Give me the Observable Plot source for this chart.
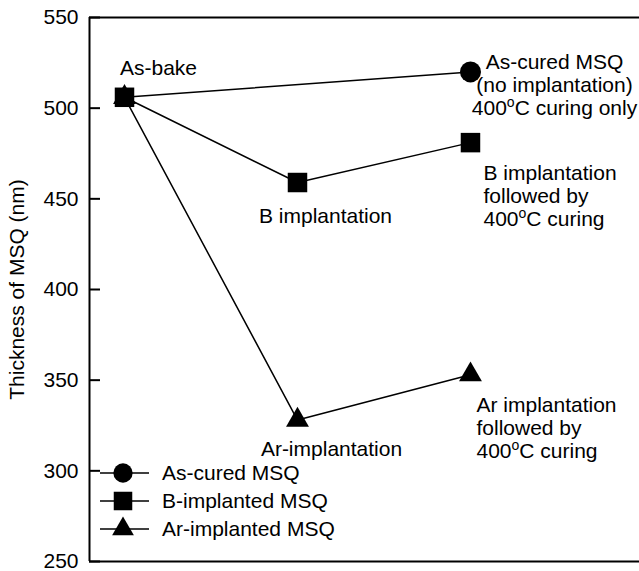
<!DOCTYPE html>
<html>
<head>
<meta charset="utf-8">
<script src="https://cdn.jsdelivr.net/npm/d3@7"></script>
<script src="https://cdn.jsdelivr.net/npm/@observablehq/plot@0.6"></script>
<style>
  html, body { margin: 0; padding: 0; background: #fff; }
  #chart { position: relative; width: 639px; height: 571px; }
</style>
</head>
<body>
<div id="chart"></div>
<script>
// ---- Data ----
const stepNames = ["As-bake", "Implantation", "400°C curing"]; // x = 0, 1, 2
const seriesNames = ["As-cured MSQ", "B-implanted MSQ", "Ar-implanted MSQ"];
const seriesSymbols = ["circle", "square", "triangle"];
const asCuredSteps = [0, 2];
const asCuredValues = [506, 520];
const bSteps = [0, 1, 2];
const bValues = [506, 459, 481];
const arSteps = [0, 1, 2];
const arValues = [506, 328, 353];
const yTicks = [250, 300, 350, 400, 450, 500, 550];
const yDomain = [250, 550];
const xDomain = [-0.2023, 2.977];

const annoLabels = [
  "As-bake",
  "B implantation",
  "Ar-implantation",
  "As-cured MSQ\n(no implantation)\n400°C curing only",
  "B implantation\nfollowed by\n400°C curing",
  "Ar implantation\nfollowed by\n400°C curing"
];
const annoSeries = ["B-implanted MSQ", "B-implanted MSQ", "Ar-implanted MSQ", "As-cured MSQ", "B-implanted MSQ", "Ar-implanted MSQ"];
const annoStep = [0, 1, 1, 2, 2, 2];

// ---- Build tables ----
const rows = [];
asCuredSteps.forEach((s, i) => rows.push({series: seriesNames[0], step: s, value: asCuredValues[i]}));
bSteps.forEach((s, i) => rows.push({series: seriesNames[1], step: s, value: bValues[i]}));
arSteps.forEach((s, i) => rows.push({series: seriesNames[2], step: s, value: arValues[i]}));
const valueOf = (series, step) => rows.find(r => r.series === series && r.step === step).value;
const anno = annoLabels.map((t, i) => ({text: t, step: annoStep[i], value: valueOf(annoSeries[i], annoStep[i])}));

const circleRows = rows.filter(r => r.series === seriesNames[0] && r.step > 0);
const squareRows = rows.filter(r => r.series === seriesNames[1]);
const triRows = rows.filter(r => r.series === seriesNames[2]);

const W = 639, H = 571, mL = 89, mR = 0, mT = 17, mB = 10;
const FONT = "'Liberation Sans', Arial, Helvetica, sans-serif";
const FS = 21;
const R = {circle: 10.5, square: 11, triangle: 8.5};

const textOpts = {fontSize: FS, fill: "black", lineHeight: 1.1};

const chart = Plot.plot({
  width: W, height: H,
  marginLeft: mL, marginRight: mR, marginTop: mT, marginBottom: mB,
  style: {fontFamily: FONT, fontSize: FS + "px", color: "black", background: "white", overflow: "visible"},
  x: {domain: xDomain, axis: null},
  y: {domain: yDomain},
  marks: [
    // tick labels + title
    Plot.axisY(yTicks, {tickSize: 0, tickPadding: 11, fontSize: FS,
      label: "Thickness of MSQ (nm)", labelAnchor: "center", labelOffset: 80, labelArrow: "none"}),
    // inward tick marks
    Plot.axisY(yTicks, {tickSize: 11, dx: 11, strokeWidth: 2, text: null, label: null}),
    Plot.ruleY([yDomain[1], yDomain[0]], {stroke: "black", strokeWidth: 2}),
    Plot.ruleX([xDomain[0]], {stroke: "black", strokeWidth: 2}),
    Plot.line(rows, {x: "step", y: "value", z: "series", stroke: "black", strokeWidth: 1.5}),
    Plot.dot(circleRows, {x: "step", y: "value", symbol: "circle", r: R.circle, fill: "black", stroke: "none"}),
    Plot.dot(triRows, {x: "step", y: "value", symbol: "triangle", r: R.triangle, fill: "black", stroke: "none"}),
    Plot.dot(squareRows, {x: "step", y: "value", symbol: "square", r: R.square, fill: "black", stroke: "none"}),
    // annotations
    Plot.text([anno[0]], {x: "step", y: "value", text: "text", dx: 34, dy: -30, ...textOpts}),
    Plot.text([anno[1]], {x: "step", y: "value", text: "text", dx: 28, dy: 33, ...textOpts}),
    Plot.text([anno[2]], {x: "step", y: "value", text: "text", dx: 34, dy: 29, ...textOpts}),
    Plot.text([anno[3]], {x: "step", y: "value", text: "text", dx: 84, dy: 13, ...textOpts}),
    Plot.text([anno[4]], {x: "step", y: "value", text: "text", dx: 13, dy: 53, textAnchor: "start", ...textOpts}),
    Plot.text([anno[5]], {x: "step", y: "value", text: "text", dx: 6, dy: 53, textAnchor: "start", ...textOpts})
  ]
});

document.getElementById("chart").appendChild(chart);

// ---- Legend (inside plot, bottom-left) ----
const svg = d3.select(chart);
const lg = svg.append("g").attr("font-family", FONT).attr("font-size", FS).attr("text-anchor", "start");
seriesNames.forEach((name, i) => {
  const cy = 473 + 28 * i;
  const g = lg.append("g").attr("transform", `translate(${mL + 34},${cy})`);
  g.append("line").attr("x1", -23).attr("x2", 26).attr("stroke", "black").attr("stroke-width", 1.5);
  const sym = {circle: d3.symbolCircle, square: d3.symbolSquare, triangle: d3.symbolTriangle}[seriesSymbols[i]];
  const rr = R[seriesSymbols[i]] * (seriesSymbols[i] === "circle" ? 0.92 : 0.95);
  g.append("path").attr("d", d3.symbol(sym, Math.PI * rr * rr)()).attr("fill", "black");
  g.append("text").attr("x", 39).attr("dy", "0.35em").attr("fill", "black").attr("text-anchor", "start").text(name);
});

// ---- Superscript degree ----
svg.selectAll("text, tspan").each(function() {
  if (this.children.length) return;
  const t = this.textContent;
  const k = t.indexOf("°");
  if (k < 0) return;
  const sel = d3.select(this);
  sel.text(t.slice(0, k));
  sel.append("tspan").attr("dy", -8).attr("font-size", 14).text("o");
  sel.append("tspan").attr("dy", 8).text(t.slice(k + 1));
});
</script>
</body>
</html>
